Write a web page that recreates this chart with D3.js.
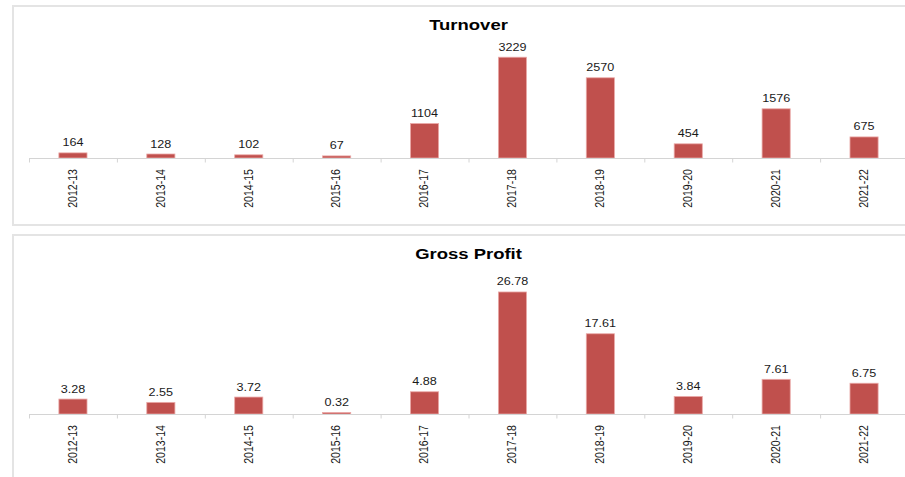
<!DOCTYPE html>
<html><head><meta charset="utf-8">
<script src="https://cdn.jsdelivr.net/npm/d3@7"></script>
<style>body{margin:0;background:#fff}svg{display:block}text{font-family:"Liberation Sans",Arial,Helvetica,sans-serif}</style>
</head><body><svg id="c" width="905" height="477"></svg>
<script>
const categories = ["2012-13","2013-14","2014-15","2015-16","2016-17","2017-18","2018-19","2019-20","2020-21","2021-22"];
const turnover = [164,128,102,67,1104,3229,2570,454,1576,675];
const turnoverLabels = ["164","128","102","67","1104","3229","2570","454","1576","675"];
const grossProfit = [3.28,2.55,3.72,0.32,4.88,26.78,17.61,3.84,7.61,6.75];
const grossProfitLabels = ["3.28","2.55","3.72","0.32","4.88","26.78","17.61","3.84","7.61","6.75"];

const svg = d3.select("#c");
const SX = 1.2;

function panel(cfg){
  const g = svg.append("g");
  g.append("rect").attr("x",13).attr("y",cfg.top).attr("width",900).attr("height",cfg.h)
    .attr("fill","#fff").attr("stroke","#e4e4e4").attr("stroke-width",2);
  g.append("text").attr("text-anchor","middle").attr("font-weight","bold").attr("font-size",15.4)
    .attr("fill","#000")
    .attr("transform",`translate(468.5,${cfg.top+24}) scale(${SX},1)`).text(cfg.title);

  const x = d3.scaleBand().domain(categories).range([29,908]).paddingInner(0.68).paddingOuter(0.34);
  const xe = d3.scaleBand().domain(categories).range([29,908]).padding(0);
  const y = d3.scaleLinear().domain([0,cfg.max]).range([cfg.base,cfg.base-cfg.span]);

  g.selectAll("rect.bar").data(cfg.values).join("rect").attr("class","bar")
    .attr("x",(d,i)=>x(categories[i])).attr("width",x.bandwidth())
    .attr("y",d=>y(d)).attr("height",d=>y(0)-y(d))
    .attr("fill","#c0504d").attr("stroke","#eaa9a7").attr("stroke-width",0.8);

  g.selectAll("text.val").data(cfg.values).join("text").attr("class","val")
    .attr("text-anchor","middle").attr("font-size",10.5).attr("fill","#1a1a1a")
    .attr("transform",(d,i)=>`translate(${x(categories[i])+x.bandwidth()/2},${y(d)-6.5}) scale(${SX},1)`)
    .text((d,i)=>cfg.labels[i]);

  // axis line and tick marks
  const ax = g.append("g").attr("transform",`translate(0,${cfg.base})`);
  ax.append("line").attr("x1",29).attr("x2",908).attr("y1",0.5).attr("y2",0.5)
    .attr("stroke","#d4d4d4").attr("stroke-width",1);
  ax.selectAll("line.tk").data(categories.concat(["end"])).join("line").attr("class","tk")
    .attr("x1",(d,i)=>i<categories.length?xe(d)+0.5:908).attr("x2",(d,i)=>i<categories.length?xe(d)+0.5:908)
    .attr("y1",0.5).attr("y2",4.5).attr("stroke","#d4d4d4");
  ax.selectAll("text.lab").data(categories).join("text").attr("class","lab")
    .attr("text-anchor","end").attr("font-size",10.6).attr("fill","#1a1a1a")
    .attr("transform",d=>`translate(${xe(d)+xe.bandwidth()/2+3.8},${11}) scale(${SX},1) rotate(-90)`)
    .text(d=>d);
}

panel({top:6,h:219,title:"Turnover",values:turnover,labels:turnoverLabels,max:3620,base:158,span:113});
panel({top:235,h:260,title:"Gross Profit",values:grossProfit,labels:grossProfitLabels,max:30,base:414,span:136.7});
</script></body></html>
